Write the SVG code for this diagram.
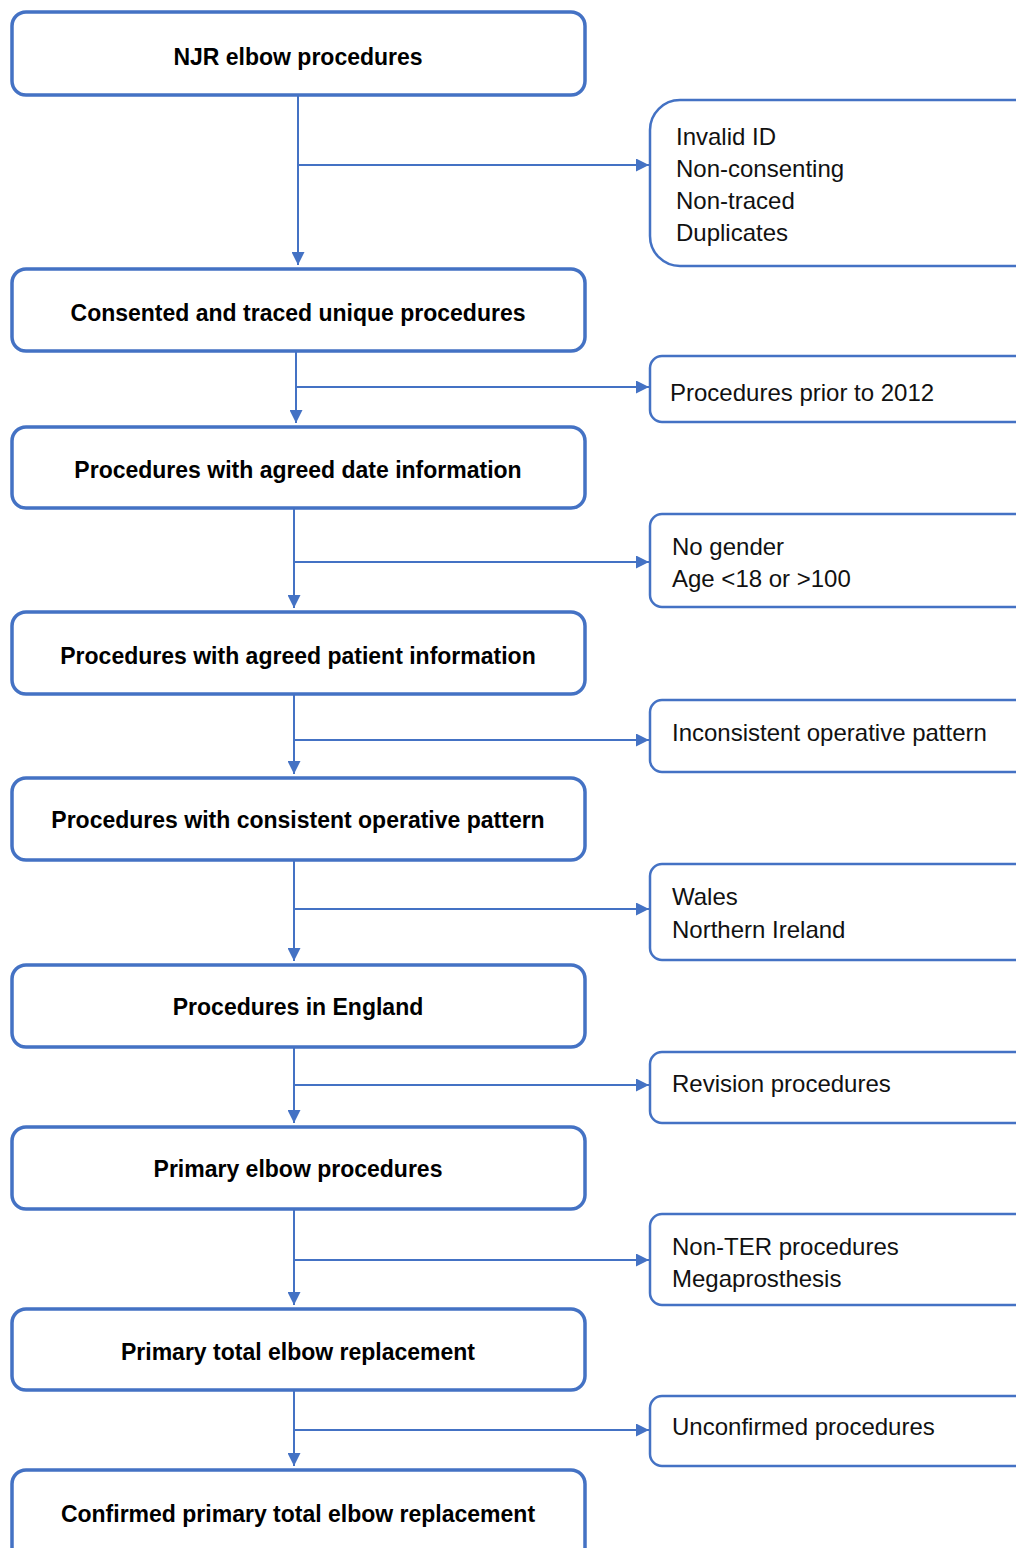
<svg xmlns="http://www.w3.org/2000/svg" width="1016" height="1548" viewBox="0 0 1016 1548">
<defs>
<style>
.main{fill:#fff;stroke:#4472C4;stroke-width:3.5}
.side{fill:#fff;stroke:#4472C4;stroke-width:2.5}
.c{fill:none;stroke:#4472C4;stroke-width:2}
.bt{font-family:"Liberation Sans",Arial,sans-serif;font-weight:bold;font-size:23px;fill:#000;text-anchor:middle;dominant-baseline:central}
.rt{font-family:"Liberation Sans",Arial,sans-serif;font-size:24px;fill:#111;dominant-baseline:central}
</style>
<marker id="ah" viewBox="0 0 10 10" refX="10" refY="5" markerWidth="6.5" markerHeight="6.5" markerUnits="strokeWidth" orient="auto">
<path d="M0,0 L10,5 L0,10 z" fill="#4472C4"/>
</marker>
</defs>
<rect width="1016" height="1548" fill="#fff"/>
<g id="connectors">
<path class="c" d="M298,95 V265" marker-end="url(#ah)"/>
<path class="c" d="M298,165 H649" marker-end="url(#ah)"/>
<path class="c" d="M296,351 V423" marker-end="url(#ah)"/>
<path class="c" d="M296,387 H649" marker-end="url(#ah)"/>
<path class="c" d="M294,508 V608" marker-end="url(#ah)"/>
<path class="c" d="M294,562 H649" marker-end="url(#ah)"/>
<path class="c" d="M294,694 V774" marker-end="url(#ah)"/>
<path class="c" d="M294,740 H649" marker-end="url(#ah)"/>
<path class="c" d="M294,860 V961" marker-end="url(#ah)"/>
<path class="c" d="M294,909 H649" marker-end="url(#ah)"/>
<path class="c" d="M294,1047 V1123" marker-end="url(#ah)"/>
<path class="c" d="M294,1085 H649" marker-end="url(#ah)"/>
<path class="c" d="M294,1209 V1305" marker-end="url(#ah)"/>
<path class="c" d="M294,1260 H649" marker-end="url(#ah)"/>
<path class="c" d="M294,1390 V1466" marker-end="url(#ah)"/>
<path class="c" d="M294,1430 H649" marker-end="url(#ah)"/>
</g>
<g id="n1"><rect class="main" x="12" y="12" width="573" height="83" rx="14"/><text class="bt" x="298" y="57">NJR elbow procedures</text></g>
<g id="n2"><rect class="main" x="12" y="269" width="573" height="82" rx="14"/><text class="bt" x="298" y="313">Consented and traced unique procedures</text></g>
<g id="n3"><rect class="main" x="12" y="427" width="573" height="81" rx="14"/><text class="bt" x="298" y="470">Procedures with agreed date information</text></g>
<g id="n4"><rect class="main" x="12" y="612" width="573" height="82" rx="14"/><text class="bt" x="298" y="656">Procedures with agreed patient information</text></g>
<g id="n5"><rect class="main" x="12" y="778" width="573" height="82" rx="14"/><text class="bt" x="298" y="820">Procedures with consistent operative pattern</text></g>
<g id="n6"><rect class="main" x="12" y="965" width="573" height="82" rx="14"/><text class="bt" x="298" y="1007">Procedures in England</text></g>
<g id="n7"><rect class="main" x="12" y="1127" width="573" height="82" rx="14"/><text class="bt" x="298" y="1169">Primary elbow procedures</text></g>
<g id="n8"><rect class="main" x="12" y="1309" width="573" height="81" rx="14"/><text class="bt" x="298" y="1352">Primary total elbow replacement</text></g>
<g id="n9"><rect class="main" x="12" y="1470" width="573" height="95" rx="14"/><text class="bt" x="298" y="1514">Confirmed primary total elbow replacement</text></g>
<g id="e1"><rect class="side" x="650" y="100" width="400" height="166" rx="30"/>
<text class="rt" x="676" y="136">Invalid ID</text><text class="rt" x="676" y="168">Non-consenting</text><text class="rt" x="676" y="200">Non-traced</text><text class="rt" x="676" y="232">Duplicates</text></g>
<g id="e2"><rect class="side" x="650" y="356" width="400" height="66" rx="12"/><text class="rt" x="670" y="392">Procedures prior to 2012</text></g>
<g id="e3"><rect class="side" x="650" y="514" width="400" height="93" rx="12"/><text class="rt" x="672" y="546">No gender</text><text class="rt" x="672" y="578">Age &lt;18 or &gt;100</text></g>
<g id="e4"><rect class="side" x="650" y="700" width="400" height="72" rx="12"/><text class="rt" x="672" y="732">Inconsistent operative pattern</text></g>
<g id="e5"><rect class="side" x="650" y="864" width="400" height="96" rx="12"/><text class="rt" x="672" y="896">Wales</text><text class="rt" x="672" y="929">Northern Ireland</text></g>
<g id="e6"><rect class="side" x="650" y="1052" width="400" height="71" rx="12"/><text class="rt" x="672" y="1083">Revision procedures</text></g>
<g id="e7"><rect class="side" x="650" y="1214" width="400" height="91" rx="12"/><text class="rt" x="672" y="1246">Non-TER procedures</text><text class="rt" x="672" y="1278">Megaprosthesis</text></g>
<g id="e8"><rect class="side" x="650" y="1396" width="400" height="70" rx="12"/><text class="rt" x="672" y="1426">Unconfirmed procedures</text></g>
</svg>
